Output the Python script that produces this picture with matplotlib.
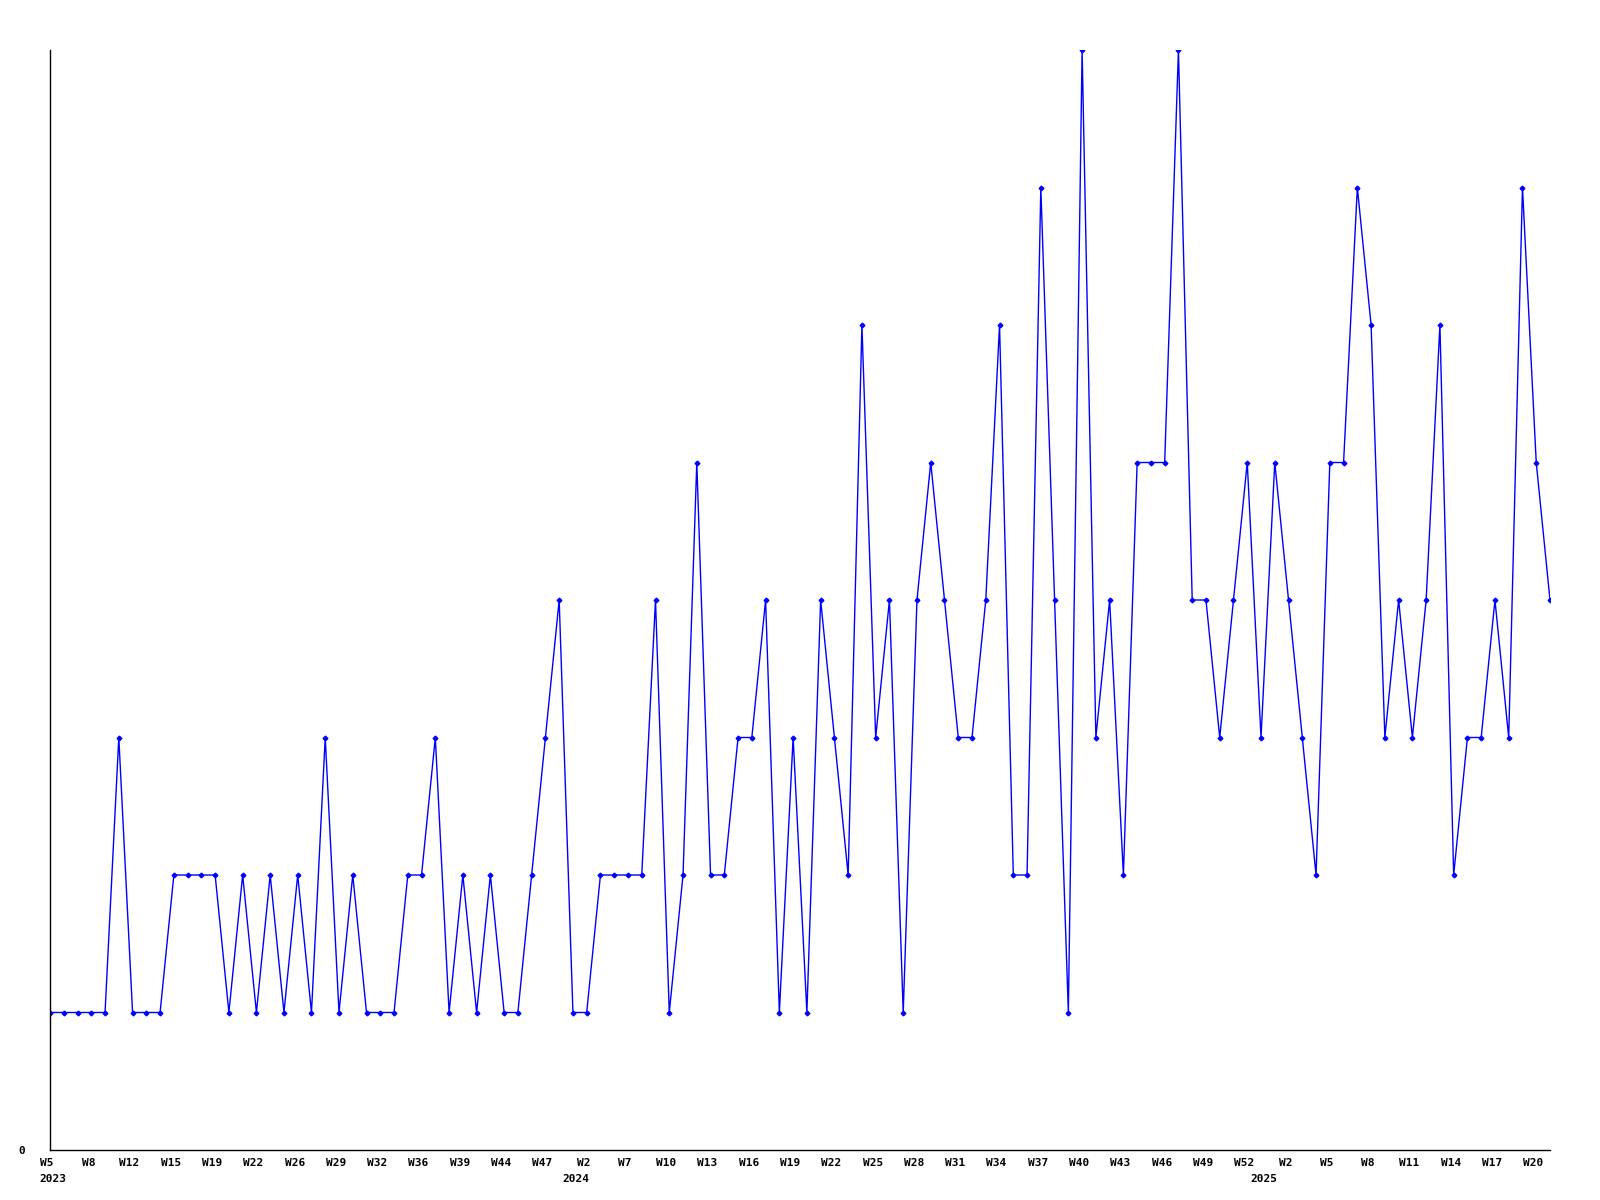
#!/usr/bin/env python3

# ========================================================================
#
# Imports
#
# ========================================================================
import numpy as np
import matplotlib as mpl
mpl.use('Agg')
import matplotlib.pyplot as plt
from matplotlib.transforms import ScaledTranslation


# ========================================================================
#
# Data
#
# ========================================================================
counts = [1, 1, 1, 1, 1, 3, 1, 1, 1, 2,
          2, 2, 2, 1, 2, 1, 2, 1, 2, 1,
          3, 1, 2, 1, 1, 1, 2, 2, 3, 1,
          2, 1, 2, 1, 1, 2, 3, 4, 1, 1,
          2, 2, 2, 2, 4, 1, 2, 5, 2, 2,
          3, 3, 4, 1, 3, 1, 4, 3, 2, 6,
          3, 4, 1, 4, 5, 4, 3, 3, 4, 6,
          2, 2, 7, 4, 1, 8, 3, 4, 2, 5,
          5, 5, 8, 4, 4, 3, 4, 5, 3, 5,
          4, 3, 2, 5, 5, 7, 6, 3, 4, 3,
          4, 6, 2, 3, 3, 4, 3, 7, 5, 4]

week_labels = ['W5', 'W8', 'W12', 'W15', 'W19', 'W22', 'W26', 'W29', 'W32',
               'W36', 'W39', 'W44', 'W47',
               'W2', 'W7', 'W10', 'W13', 'W16', 'W19', 'W22', 'W25', 'W28',
               'W31', 'W34', 'W37', 'W40', 'W43', 'W46', 'W49', 'W52',
               'W2', 'W5', 'W8', 'W11', 'W14', 'W17', 'W20']

years = ['2023', '2024', '2025']
year_first_point = [0, 38, 88]


# ========================================================================
#
# Plot
#
# ========================================================================
plt.rc('font', family='DejaVu Sans Mono', weight='bold', size=8)
blue = '#0000ff'

fig = plt.figure(figsize=(16, 12), dpi=100)
ax = fig.add_axes([50 / 1600, 50 / 1200, 1500 / 1600, 1100 / 1200])

x = np.arange(len(counts))
ax.plot(x, counts, ls='-', lw=1, color=blue,
        marker='D', ms=2.4, mfc=blue, mec=blue)

ax.set_xlim(0, len(counts) - 1)
ax.set_ylim(0, max(counts))

# ticks: week label on every third point, only "0" on the y axis
ax.set_xticks(x[::3])
ax.set_xticklabels(week_labels)
ax.set_yticks([0])
ax.set_yticklabels(['0'])
ax.tick_params(axis='x', length=0, pad=6)
ax.tick_params(axis='y', length=0, pad=18)

# week labels sit a few pixels left of their point
shift = ScaledTranslation(-3 / 100, 0, fig.dpi_scale_trans)
for lbl in ax.get_xticklabels():
    lbl.set_transform(lbl.get_transform() + shift)

for yr, i in zip(years, year_first_point):
    ax.annotate(yr, xy=(i, 0), xycoords='data',
                xytext=(2, -21), textcoords='offset points',
                ha='center', va='center', fontweight='bold')

for side in ['top', 'right']:
    ax.spines[side].set_visible(False)
for side in ['left', 'bottom']:
    ax.spines[side].set_linewidth(1)
    ax.spines[side].set_color('black')

plt.savefig('out.png', format='png', dpi=100)
